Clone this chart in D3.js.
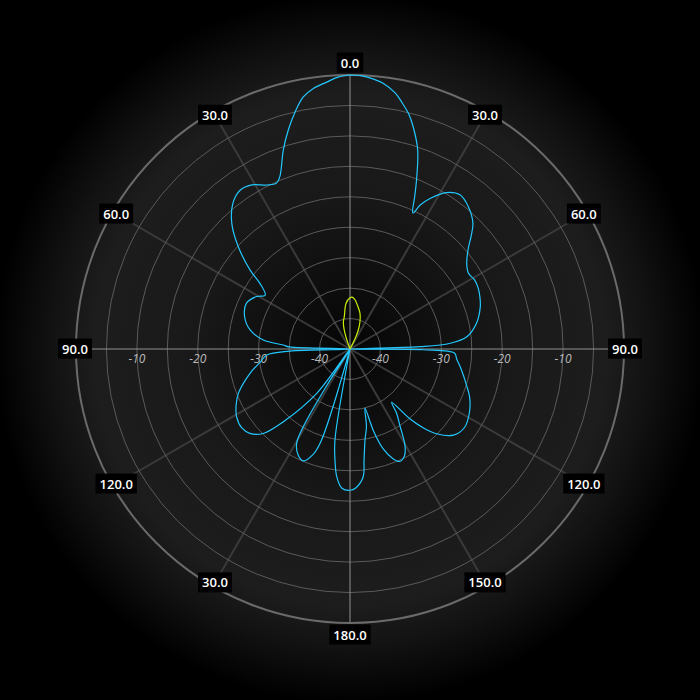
<!DOCTYPE html>
<html><head><meta charset="utf-8">
<script src="https://cdn.jsdelivr.net/npm/d3@7"></script>
<style>html,body{margin:0;padding:0;background:#000;}svg{display:block;}</style>
</head><body>
<svg id="chart" width="700" height="700"></svg>
<script>
// Angular axis labels, clockwise from top (as printed on the reference)
const angleTicks = [0, 30, 60, 90, 120, 150, 180, 210, 240, 270, 300, 330];
const angleLabels = ["0.0","30.0","60.0","90.0","120.0","150.0","180.0","30.0","120.0","90.0","60.0","30.0"];
// Radial axis (dB)
const radialDomain = [-45, 0];
const ringValues = [-40, -35, -30, -25, -20, -15, -10, -5];
const radialLabels = [-10, -20, -30, -40];

// Cyan pattern: angle (deg, clockwise from top) and level (dB)
const cyanAngles = [0,2.5,5,7,10,12,14,16,18.8,21.5,23,24.8,26,28,31.7,35.5,39.7,44.3,47,50,54,57.4,61,64.7,68,72,78.5,84,86.7,88.1,89.6,90.6,92.3,95.4,100,107.5,112,117.9,124.3,129.8,134.4,137,139.4,142,144,146.9,150.4,153,156.1,158.5,161.6,164,165.8,168,170.6,172.8,174.1,177.5,180,183.3,185.9,187.7,189.4,190.6,196,197.5,199.5,202.6,206,209.5,211,212.5,214.5,216.9,222.5,225.8,229.9,234,239.1,244,248.4,256.3,262,265.9,268,269.7,272,273.4,275.9,280.8,287,293.9,299.3,302.4,306.1,308.3,312.5,316.7,321.2,325.3,329.1,333.1,336.1,337.9,341.5,344.3,347,349.5,352,355,357.5,360];
const cyanValues = [0,-0.1,-0.5,-1.0,-2.3,-3.7,-5.2,-7.2,-10.5,-15.2,-17.8,-20.4,-18.7,-17.0,-14.8,-13.9,-14.6,-16.1,-17.8,-19.7,-21.3,-21.9,-21.6,-21.7,-22.0,-22.5,-23.8,-25.7,-28.5,-33.5,-50,-33,-27.8,-27.4,-26.5,-24.9,-23.8,-22.8,-22.2,-22.9,-25.1,-27.2,-29.9,-33.9,-32,-30,-26.7,-25.3,-24.8,-25.6,-27.7,-31,-35,-32,-29.9,-26.6,-23.9,-22.2,-21.8,-22.1,-23.9,-26.6,-29.9,-50,-50,-29,-26.5,-25.1,-25.6,-27.2,-30,-38,-50,-35.9,-28.8,-25.1,-23.5,-23.0,-23.3,-24.2,-25.3,-28.1,-30.2,-31.3,-35.1,-50,-35,-34.0,-30.7,-28.3,-26.9,-26.4,-27.4,-28.5,-26.7,-24.1,-20.1,-16.7,-14.3,-13.3,-13.6,-14.8,-15.2,-14.4,-10.5,-7.6,-5.0,-2.9,-1.8,-1.0,-0.3,0];

// Yellow pattern: narrow lobe near boresight
const yellowAngles = [-24,-18,-14,-10,-5,0,3,6,10,15.6,20,23.6,27,31];
const yellowValues = [-50,-42.4,-40.5,-39.6,-37.5,-36.6,-36.5,-36.9,-37.8,-38.9,-40.2,-41.6,-43.5,-50];

const W = 700, H = 700, cx = 350, cy = 349, R = 274;
const svg = d3.select("#chart");
const defs = svg.append("defs");
const grad = defs.append("radialGradient").attr("id","bg")
  .attr("gradientUnits","userSpaceOnUse").attr("cx",cx).attr("cy",cy).attr("r",355);
[[0,"#050505"],[0.15,"#0c0c0c"],[0.45,"#191919"],[0.72,"#1d1d1d"],[0.84,"#121212"],[1,"#000"]]
  .forEach(([o,c]) => grad.append("stop").attr("offset",o).attr("stop-color",c));
svg.append("rect").attr("width",W).attr("height",H).attr("fill","url(#bg)");

const g = svg.append("g").attr("transform",`translate(${cx},${cy})`);
const r = d3.scaleLinear().domain(radialDomain).range([0,R]).clamp(true);
const rad = d => d * Math.PI / 180;

// spokes
g.selectAll("line.spoke").data(angleTicks.filter(a => a % 90 !== 0)).join("line")
  .attr("x1",0).attr("y1",0)
  .attr("x2",a => R*Math.sin(rad(a))).attr("y2",a => -R*Math.cos(rad(a)))
  .attr("stroke","#3a3a3a").attr("stroke-width",2);

// rings
g.selectAll("circle.ring").data(ringValues).join("circle")
  .attr("r",d => r(d)).attr("fill","none").attr("stroke","#5a5a5a").attr("stroke-width",1);

// main axes
g.append("line").attr("x1",-R).attr("x2",R).attr("y1",0).attr("y2",0).attr("stroke","#909090").attr("stroke-width",1);
g.append("line").attr("y1",-R).attr("y2",R).attr("x1",0).attr("x2",0).attr("stroke","#909090").attr("stroke-width",1);

// outer ring
g.append("circle").attr("r",R).attr("fill","none").attr("stroke","#6a6a6a").attr("stroke-width",2);

// radial tick labels on both sides
[-1,1].forEach(side => {
  g.selectAll(null).data(radialLabels).join("text")
    .attr("x",d => side*r(d)).attr("y",14)
    .attr("text-anchor","middle")
    .attr("font-family","Open Sans, sans-serif").attr("font-size",12).attr("font-style","italic")
    .attr("fill","#b8b8b8").text(d => d);
});

// series
const line = d3.lineRadial().angle(d => rad(d[0])).radius(d => r(d[1])).curve(d3.curveCatmullRom.alpha(0.5));
const cyan = cyanAngles.map((a,i) => [a, cyanValues[i]]);
const yellow = yellowAngles.map((a,i) => [a, yellowValues[i]]);
g.append("path").attr("d", line(cyan)).attr("fill","none").attr("stroke","#22c8ff").attr("stroke-width",1.2);
g.append("path").attr("d", line(yellow)).attr("fill","none").attr("stroke","#c8f000").attr("stroke-width",1.2);

// angular labels
const lab = g.selectAll("g.alab").data(angleTicks).join("g")
  .attr("transform",(a) => {
    const s = Math.sin(rad(a)), c = Math.cos(rad(a));
    let lr = R - 4;
    if (Math.abs(c) > 0.99) lr = R + 12;
    else if (Math.abs(s) > 0.99) lr = R + 1;
    return `translate(${lr*s},${-lr*c})`;
  });
lab.each(function(a,i){
  const gg = d3.select(this);
  const t = gg.append("text").attr("text-anchor","middle").attr("dy","0.35em")
    .attr("font-family","Open Sans, sans-serif").attr("font-size",13).attr("font-weight",600)
    .attr("fill","#ffffff").text(angleLabels[i]);
  const bb = t.node().getBBox();
  gg.insert("rect","text").attr("x",bb.x-4).attr("y",bb.y-1).attr("width",bb.width+8).attr("height",bb.height+2)
    .attr("fill","#000");
});
</script>
</body></html>
